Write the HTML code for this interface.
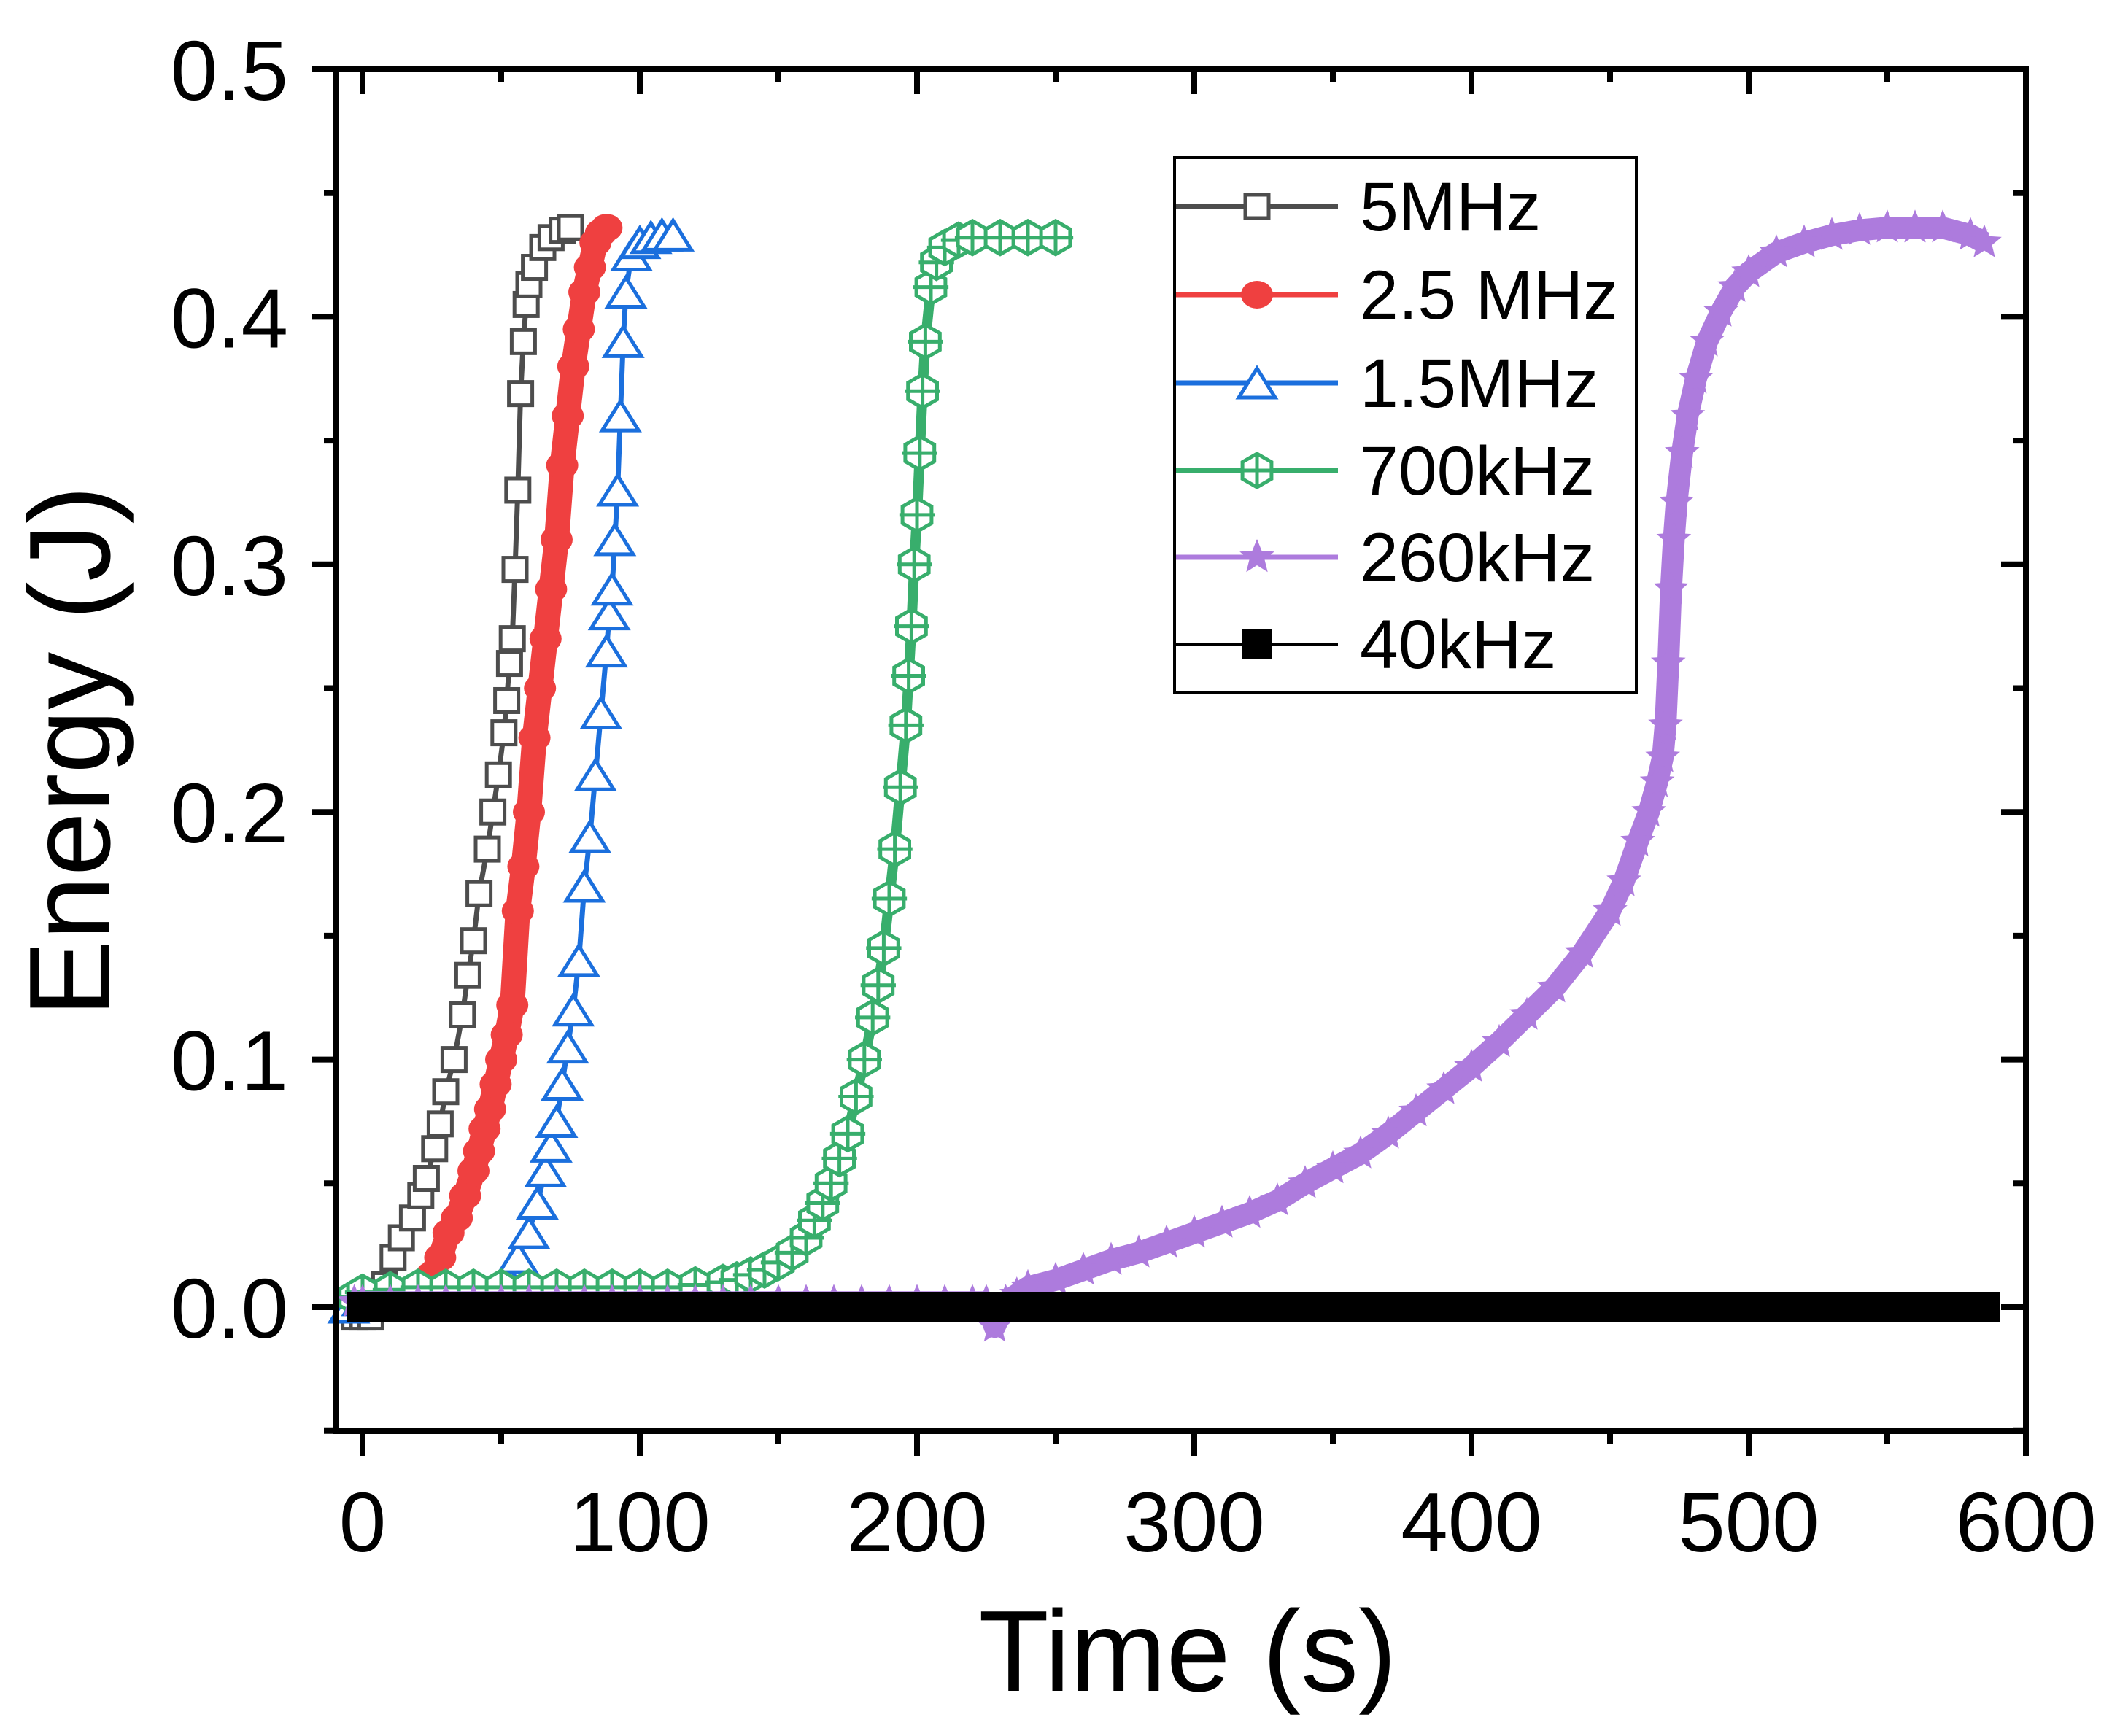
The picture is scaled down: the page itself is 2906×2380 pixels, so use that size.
<!DOCTYPE html>
<html><head><meta charset="utf-8"><style>
html,body{margin:0;padding:0;background:#fff;}
svg text{font-family:"Liberation Sans",Arial,sans-serif;}
</style></head><body>
<svg id="chart" xmlns="http://www.w3.org/2000/svg" width="2906" height="2375" viewBox="0 0 2906 2375">
<rect x="0" y="0" width="2906" height="2375" fill="#fff"/>
<g id="series"></g>
<g id="axes"></g>
<g id="legend"></g>
<text x="1628" y="2318" font-size="158" text-anchor="middle">Time (s)</text>
<text transform="translate(150,1030) rotate(-90)" font-size="158" text-anchor="middle">Energy (J)</text>
</svg>
<script>
const xTicks=[0,100,200,300,400,500,600];
const xTickLabels=["0","100","200","300","400","500","600"];
const yTicks=[0,0.1,0.2,0.3,0.4,0.5];
const yTickLabels=["0.0","0.1","0.2","0.3","0.4","0.5"];
const seriesNames=["5MHz","2.5 MHz","1.5MHz","700kHz","260kHz","40kHz"];

const t5MHz=[-3,0,3,6,8,11,14,18,21,23,26,28,30,33,36,38,40,42,45,47,49,51,52,53,54,55,56,57,58,59,60,62,65,68,72,75];
const e5MHz=[-0.004,-0.004,-0.004,0.0,0.009,0.02,0.028,0.036,0.045,0.052,0.064,0.074,0.087,0.1,0.118,0.134,0.148,0.167,0.185,0.2,0.215,0.232,0.245,0.26,0.27,0.298,0.33,0.369,0.39,0.405,0.413,0.42,0.428,0.432,0.435,0.436];

const t2_5MHz=[22,25,28,31,34,37,40,42,44,46,48,50,52,54,56,58,60,62,64,66,68,70,72,74,76,78,80,82,84,86,88];
const e2_5MHz=[0.008,0.013,0.02,0.03,0.036,0.045,0.055,0.063,0.072,0.08,0.09,0.1,0.11,0.122,0.16,0.178,0.2,0.23,0.25,0.27,0.29,0.31,0.34,0.36,0.38,0.395,0.41,0.42,0.43,0.434,0.436];

const t1_5MHz=[-5,0,10,20,30,40,48,52,56,60,63,66,68,70,72,74,76,78,80,82,84,86,88,89,90,91,92,93,94,95,97,100,104,108,112];
const e1_5MHz=[0.0,0.003,0.004,0.004,0.004,0.005,0.006,0.012,0.02,0.03,0.042,0.055,0.065,0.075,0.09,0.105,0.12,0.14,0.17,0.19,0.215,0.24,0.265,0.28,0.29,0.31,0.33,0.36,0.39,0.41,0.425,0.43,0.432,0.433,0.433];

const t700kHz=[-3,0,10,20,30,40,50,60,70,80,90,100,110,120,130,135,140,145,150,155,160,163,166,169,172,175,178,181,184,186,188,190,192,194,196,197,198,199,200,201,202,203,205,207,210,215,220,230,240,250];
const e700kHz=[0.004,0.006,0.007,0.008,0.008,0.008,0.008,0.008,0.008,0.008,0.008,0.008,0.008,0.009,0.01,0.011,0.013,0.015,0.018,0.022,0.028,0.035,0.042,0.05,0.06,0.07,0.085,0.1,0.117,0.13,0.145,0.165,0.185,0.21,0.235,0.255,0.275,0.3,0.32,0.345,0.37,0.39,0.412,0.422,0.428,0.431,0.432,0.432,0.432,0.432];

const t260kHz=[-3,0,10,20,30,40,50,60,70,80,90,100,110,120,130,140,150,160,170,180,190,200,210,220,225,228,232,236,240,250,260,270,280,290,300,310,320,330,340,350,360,370,380,390,400,410,420,430,440,450,455,460,464,467,469,470,471,472,473,474,476,478,481,485,490,495,500,510,520,530,540,550,560,570,580,585];
const e260kHz=[0.002,0.002,0.002,0.002,0.002,0.002,0.002,0.002,0.002,0.002,0.002,0.002,0.002,0.002,0.002,0.002,0.002,0.002,0.002,0.002,0.002,0.002,0.002,0.002,0.002,-0.008,0.002,0.005,0.008,0.011,0.015,0.019,0.022,0.026,0.03,0.034,0.038,0.043,0.05,0.056,0.062,0.07,0.079,0.088,0.097,0.107,0.118,0.129,0.143,0.16,0.172,0.188,0.2,0.212,0.222,0.235,0.26,0.29,0.31,0.325,0.345,0.36,0.375,0.39,0.402,0.412,0.418,0.426,0.43,0.433,0.435,0.436,0.436,0.436,0.433,0.43];

const t40kHz=[0,15,30,45,60,75,90,105,120,135,150,165,180,195,210,225,240,255,270,285,300,315,330,345,360,375,390,405,420,435,450,465,480,495,510,525,540,555,570,585];
const e40kHz=[0,0,0,0,0,0,0,0,0,0,0,0,0,0,0,0,0,0,0,0,0,0,0,0,0,0,0,0,0,0,0,0,0,0,0,0,0,0,0,0];

const NS="http://www.w3.org/2000/svg";
const X0=497, XS=3.80, Y0=1792, YS=3394;
function xScale(t){return X0+t*XS;}
function yScale(e){return Y0-e*YS;}
function mk(tag,attrs,parent){const el=document.createElementNS(NS,tag);for(const k in attrs)el.setAttribute(k,attrs[k]);parent.appendChild(el);return el;}

const L=461,R=xScale(600),T=95,B=1962;
const styles=[
 {t:t5MHz,e:e5MHz,color:"#4d4d4d",marker:"square-open",lw:7},
 {t:t2_5MHz,e:e2_5MHz,color:"#ef4040",marker:"circle",lw:34},
 {t:t1_5MHz,e:e1_5MHz,color:"#1b6fdd",marker:"triangle",lw:7},
 {t:t700kHz,e:e700kHz,color:"#38ae6c",marker:"hexagon",lw:14},
 {t:t260kHz,e:e260kHz,color:"#ad7bdd",marker:"star",lw:30},
 {t:t40kHz,e:e40kHz,color:"#000000",marker:"square-filled",lw:42}
];
function drawMarker(type,cx,cy,color,g,scale){
 scale=scale||1;let el;
 if(type==="square-open"){const s=32*scale;el=mk("rect",{x:cx-s/2,y:cy-s/2,width:s,height:s,fill:"#fff",stroke:color,"stroke-width":5},g);}
 else if(type==="square-filled"){const s=42*scale;el=mk("rect",{x:cx-s/2,y:cy-s/2,width:s,height:s,fill:color},g);}
 else if(type==="circle"){el=mk("ellipse",{cx:cx,cy:cy,rx:22*scale,ry:19*scale,fill:color},g);}
 else if(type==="triangle"){const w=50*scale,h=40*scale;el=mk("polygon",{points:`${cx},${cy-h/2} ${cx+w/2},${cy+h/2} ${cx-w/2},${cy+h/2}`,fill:"#fff",stroke:color,"stroke-width":5,"stroke-linejoin":"miter"},g);}
 else if(type==="hexagon"){const r=23*scale;let p=[];for(let i=0;i<6;i++){const a=Math.PI/180*(90+60*i);p.push((cx+r*Math.cos(a)).toFixed(1)+","+(cy-r*Math.sin(a)).toFixed(1));}
  el=mk("g",{},g);mk("polygon",{points:p.join(" "),fill:"#fff",stroke:color,"stroke-width":5},el);
  mk("line",{x1:cx-r*1.05,y1:cy,x2:cx+r*1.05,y2:cy,stroke:color,"stroke-width":5},el);
  mk("line",{x1:cx,y1:cy-r,x2:cx,y2:cy+r,stroke:color,"stroke-width":5},el);}
 else if(type==="star"){const ro=25*scale,ri=11*scale;let p=[];for(let i=0;i<10;i++){const r=i%2?ri:ro;const a=Math.PI/180*(90+36*i);p.push((cx+r*Math.cos(a)).toFixed(1)+","+(cy-r*Math.sin(a)).toFixed(1));}
  el=mk("polygon",{points:p.join(" "),fill:color},g);}
 return el;
}
const sg=document.getElementById("series");
[0,1,2,3,4,5].forEach(i=>{
 const s=styles[i];
 const g=mk("g",{},sg);
 
 
 const pts=s.t.map((t,j)=>xScale(t).toFixed(1)+","+yScale(s.e[j]).toFixed(1)).join(" ");
 const pl=mk("polyline",{points:pts,fill:"none",stroke:s.color,"stroke-width":s.lw,"stroke-linejoin":"round"},g);
 
 
 s.t.forEach((t,j)=>{
  const m=drawMarker(s.marker,xScale(t),yScale(s.e[j]),s.color,g);
  
  
 });
});

const ag=document.getElementById("axes");
const frame=mk("rect",{x:L,y:T,width:R-L,height:B-T,fill:"none",stroke:"#000","stroke-width":8},ag);


for(let v=-50;v<=600;v+=50){
 const x=xScale(v);if(x<L-1||x>R+1)continue;
 const major=(v%100===0);const len=major?34:17;
 const a=mk("line",{x1:x,y1:B,x2:x,y2:B+len,stroke:"#000","stroke-width":8},ag);
 
 
 const b=mk("line",{x1:x,y1:T,x2:x,y2:T+len,stroke:"#000","stroke-width":8},ag);
 
 
}
for(let k=-1;k<=10;k++){
 const v=k*0.05;const y=yScale(v);if(y>B+1||y<T-1)continue;
 const major=(k%2===0);const len=major?34:17;
 const a=mk("line",{x1:L-len,y1:y,x2:L,y2:y,stroke:"#000","stroke-width":8},ag);
 
 
 const b=mk("line",{x1:R-len,y1:y,x2:R,y2:y,stroke:"#000","stroke-width":8},ag);
 
 
}
xTicks.forEach((v,i)=>{
 const t=mk("text",{x:xScale(v),y:2127,"font-size":116,"text-anchor":"middle"},ag);
 t.textContent=xTickLabels[i];
 
 
});
yTicks.forEach((v,i)=>{
 const t=mk("text",{x:395,y:yScale(v)+42,"font-size":116,"text-anchor":"end"},ag);
 t.textContent=yTickLabels[i];
 
 
});

const lg=document.getElementById("legend");
const box=mk("rect",{x:1610,y:216,width:633,height:734,fill:"#fff",stroke:"#000","stroke-width":4},lg);


const rowY=[283,404,525,645,764,883];
styles.forEach((s,i)=>{
 const g=mk("g",{},lg);
 
 
 mk("line",{x1:1612,y1:rowY[i],x2:1834,y2:rowY[i],stroke:s.color,"stroke-width":i===5?4:7},g);
 drawMarker(s.marker,1723,rowY[i],s.color,g,1.0);
 const t=mk("text",{x:1864,y:rowY[i]+33,"font-size":95},g);
 t.textContent=seriesNames[i];
});
</script>
</body></html>
